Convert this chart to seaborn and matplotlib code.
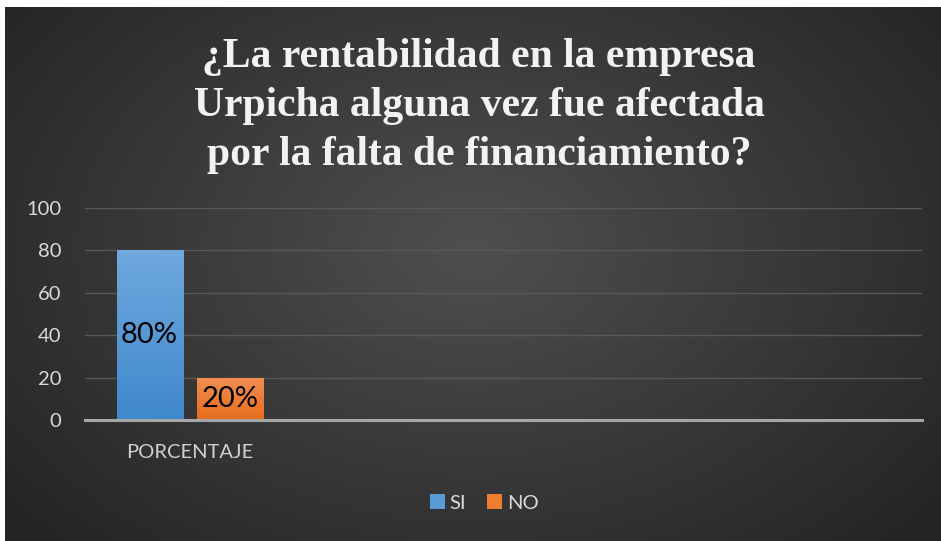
import numpy as np
import pandas as pd
import matplotlib
matplotlib.use("Agg")
import matplotlib.pyplot as plt
import seaborn as sns
from matplotlib.patches import Patch
from matplotlib.colors import to_rgb

# ---- data ----
categories = ["PORCENTAJE"]
series_names = ["SI", "NO"]
si_values = [80]
no_values = [20]
value_labels_si = ["80%"]
value_labels_no = ["20%"]
title_lines = ["¿La rentabilidad en la empresa",
               "Urpicha alguna vez fue afectada",
               "por la falta de financiamiento?"]
y_ticks = [0, 20, 40, 60, 80, 100]

df = pd.DataFrame({
    "categoria": categories * 2,
    "serie": ["SI"] * len(categories) + ["NO"] * len(categories),
    "valor": si_values + no_values,
})

sns.set_theme(style="white")
plt.rcParams["font.family"] = ["Lato", "DejaVu Sans"]

W, H = 941, 541
fig = plt.figure(figsize=(W / 100, H / 100), dpi=100)
fig.patch.set_facecolor("white")

# background radial gradient
bg = fig.add_axes([5 / W, 0, 1 - 5 / W, 1 - 7 / H], zorder=-10)
yy, xx = np.mgrid[0:1:300j, 0:1:500j]
r = np.sqrt(((xx - 0.5) / 0.62) ** 2 + ((yy - 0.45) / 0.75) ** 2)
g = np.clip(0.31 - 0.16 * r, 0.145, 0.32)
bg.imshow(np.dstack([g, g, g]), aspect="auto", extent=[0, 1, 0, 1], origin="upper")
bg.set_axis_off()

ax = fig.add_axes([85 / W, 1 - 420 / H, (922 - 85) / W, (420 - 208) / H])
ax.set_facecolor("none")

colors = {"SI": "#5b9bd5", "NO": "#ed7d31"}
sns.barplot(data=df, x="categoria", y="valor", hue="serie", hue_order=series_names,
            palette=colors, width=0.765, gap=0.175, ax=ax, legend=False,
            edgecolor="none", linewidth=0, zorder=3)

ax.set_xlim(-0.5, 3.5)
ax.set_ylim(0, 100)
ax.set_yticks(y_ticks)
ax.grid(axis="y", color="#585858", linewidth=1.0, zorder=0)
ax.grid(axis="x", visible=False)
for s in ["top", "right", "left"]:
    ax.spines[s].set_visible(False)
ax.spines["bottom"].set_color("#a6a6a6")
ax.spines["bottom"].set_linewidth(2.2)
ax.spines["bottom"].set_zorder(5)
ax.tick_params(axis="y", length=0, pad=17, labelsize=14.5, labelcolor="#d9d9d9")
ax.tick_params(axis="x", length=0, pad=17, labelsize=14.5, labelcolor="#d0d0d0")
ax.set_xlabel("")
ax.set_ylabel("")

# gradients on bars
grads = {"SI": ("#6fa9de", "#3f88cc"), "NO": ("#f28f52", "#e66c1c")}
bars = [p for p in ax.patches]
order = ["SI"] * len(categories) + ["NO"] * len(categories)
labels = value_labels_si + value_labels_no
for p, name, lab in zip(bars, order, labels):
    x0, y0 = p.get_x(), p.get_y()
    w, h = p.get_width(), p.get_height()
    top, bot = np.array(to_rgb(grads[name][0])), np.array(to_rgb(grads[name][1]))
    t = np.linspace(0, 1, 100)[:, None]
    img = (top * (1 - t) + bot * t)[:, None, :]
    im = ax.imshow(img, extent=[x0, x0 + w, y0, y0 + h], aspect="auto",
                   origin="upper", zorder=3.5)
    im.set_clip_path(p)
    ax.text(x0 + w / 2, y0 + h / 2, lab, ha="center", va="center",
            fontsize=21, color="black", zorder=6, family=["Lato", "DejaVu Sans"])
ax.set_xlim(-0.5, 3.5)
ax.set_ylim(0, 100)

# title
for i, line in enumerate(title_lines):
    fig.text(479 / W, 1 - (57 + 49 * i) / H, line, ha="center", va="center",
             fontsize=30, fontweight="bold", color="#f2f2f2",
             family=["Liberation Serif", "DejaVu Serif"])

# legend
handles = [Patch(facecolor=colors[n], edgecolor="none", label=n) for n in series_names]
fig.legend(handles=handles, loc="center", bbox_to_anchor=(484 / W, 1 - 503 / H),
           ncol=2, frameon=False, handlelength=0.75, handleheight=0.75,
           handletextpad=0.25, columnspacing=1.0, fontsize=14.5, labelcolor="#d9d9d9")

fig.savefig("out.png", dpi=100, facecolor=fig.get_facecolor())
